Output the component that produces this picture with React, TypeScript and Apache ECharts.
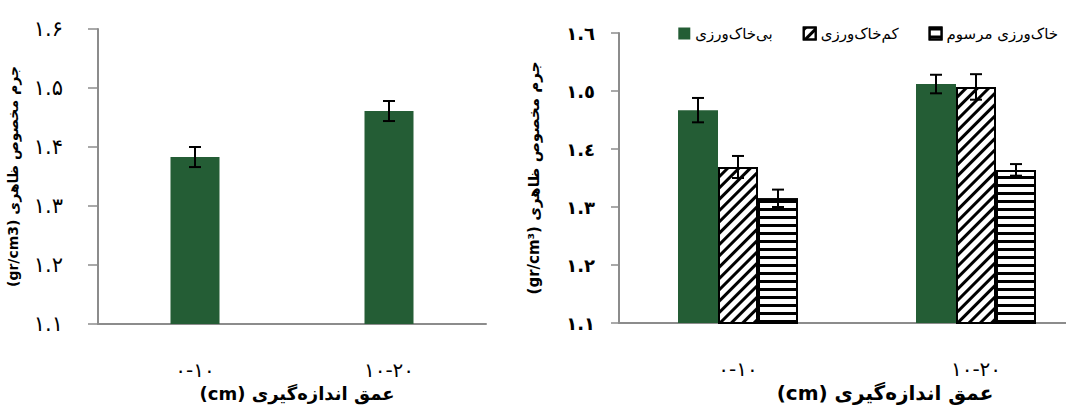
import React, { useEffect, useRef } from "react";
import * as echarts from "echarts";

const categories = ["۰-۱۰", "۱۰-۲۰"];
const leftValues = [1.383, 1.461];
const leftErrors = [0.017, 0.017];

const seriesNames = ["بی‌خاک‌ورزی", "کم‌خاک‌ورزی", "خاک‌ورزی مرسوم"];
const noTillValues = [1.467, 1.512];
const noTillErrors = [0.021, 0.016];
const minTillValues = [1.369, 1.507];
const minTillErrors = [0.019, 0.022];
const convValues = [1.315, 1.364];
const convErrors = [0.015, 0.01];

const yMin = 1.1;
const yMax = 1.6;
const yStep = 0.1;

const persianDigits = "۰۱۲۳۴۵۶۷۸۹";
const arabicDigits = "٠١٢٣٤٥٦٧٨٩";
const toDigits = (s: string, set: string) => s.replace(/[0-9]/g, (d) => set[+d]);

const GREEN = "#245d35";
const AXIS = "#8c8c8c";
const FONT = "DejaVu Sans";

function errorSeries(name: string, xIdx: number, vals: number[], errs: number[], offset: number) {
  return {
    type: "custom",
    name,
    xAxisIndex: xIdx,
    yAxisIndex: xIdx,
    z: 10,
    data: vals.map((v, i) => [i, v, errs[i]]),
    encode: { x: 0, y: 1 },
    renderItem: (params: any, api: any) => {
      const c = api.value(0);
      const v = api.value(1);
      const e = api.value(2);
      const top = api.coord([c, v + e]);
      const bot = api.coord([c, v - e]);
      const x = top[0] + offset;
      const st = { stroke: "#000", lineWidth: 2 };
      return {
        type: "group",
        children: [
          { type: "line", shape: { x1: x, y1: top[1], x2: x, y2: bot[1] }, style: st },
          { type: "line", shape: { x1: x - 6, y1: top[1], x2: x + 6, y2: top[1] }, style: st },
          { type: "line", shape: { x1: x - 6, y1: bot[1], x2: x + 6, y2: bot[1] }, style: st },
        ],
      };
    },
  };
}

export default function App() {
  const ref = useRef<HTMLDivElement>(null);
  useEffect(() => {
    document.body.style.margin = "0";
    if (!ref.current) return;
    const chart = echarts.init(ref.current, null, { renderer: "svg" });
    const yAxisBase = (idx: number) => ({
      type: "value",
      gridIndex: idx,
      min: yMin,
      max: yMax,
      interval: yStep,
      splitLine: { show: false },
      axisLine: { show: true, lineStyle: { color: AXIS, width: 2 } },
      axisTick: { show: true, length: idx === 0 ? 10 : 8, lineStyle: { color: AXIS, width: 1.5 } },
      nameLocation: "middle",
      nameGap: 78,
      nameRotate: 90,
    });
    const xAxisBase = (idx: number) => ({
      type: "category",
      gridIndex: idx,
      data: categories,
      axisLine: { show: true, lineStyle: { color: AXIS, width: 2 } },
      axisTick: { show: false },
      axisLabel: { margin: 36, fontSize: 20, color: "#000", fontFamily: FONT },
    });
    chart.setOption({
      animation: false,
      textStyle: { fontFamily: FONT },
      grid: [
        { left: 98, width: 388, top: 29, bottom: 87, outerBoundsMode: "none" },
        { left: 619, width: 476, top: 33, bottom: 88, outerBoundsMode: "none" },
      ],
      legend: {
        data: seriesNames,
        right: 3,
        top: 21,
        itemWidth: 12,
        itemHeight: 12,
        itemGap: 30,
        icon: "rect",
        textStyle: { fontSize: 15, color: "#000", fontFamily: FONT },
      },
      xAxis: [xAxisBase(0), xAxisBase(1)],
      yAxis: [
        {
          ...yAxisBase(0),
          name: "(gr/cm3) جرم مخصوص ظاهری",
          nameTextStyle: { fontSize: 14, fontWeight: "bold", color: "#000", fontFamily: FONT },
          axisLabel: {
            margin: 35,
            fontSize: 21,
            color: "#000",
            fontFamily: FONT,
            formatter: (v: number) => toDigits(v.toFixed(1), persianDigits),
          },
        },
        {
          ...yAxisBase(1),
          name: "(gr/cm³) جرم مخصوص ظاهری",
          nameTextStyle: { fontSize: 15, fontWeight: "bold", color: "#000", fontFamily: FONT },
          axisLabel: {
            margin: 24,
            fontSize: 18,
            fontWeight: "bold",
            color: "#000",
            fontFamily: FONT,
            formatter: (v: number) => toDigits(v.toFixed(1), arabicDigits),
          },
        },
      ],
      graphic: [
        {
          type: "text",
          x: 297,
          y: 393,
          style: {
            text: "(cm) عمق اندازه‌گیری",
            fontSize: 18,
            fontWeight: "bold",
            fontFamily: FONT,
            fill: "#000",
            align: "center",
            verticalAlign: "middle",
          },
        },
        {
          type: "text",
          x: 885,
          y: 393,
          style: {
            text: "(cm) عمق اندازه‌گیری",
            fontSize: 20,
            fontWeight: "bold",
            fontFamily: FONT,
            fill: "#000",
            align: "center",
            verticalAlign: "middle",
          },
        },
      ],
      series: [
        {
          type: "bar",
          name: "left",
          xAxisIndex: 0,
          yAxisIndex: 0,
          barWidth: 49,
          data: leftValues,
          itemStyle: { color: GREEN },
        },
        errorSeries("leftErr", 0, leftValues, leftErrors, 0),
        {
          type: "bar",
          name: seriesNames[0],
          xAxisIndex: 1,
          yAxisIndex: 1,
          barWidth: 40,
          barGap: "0%",
          data: noTillValues,
          itemStyle: { color: GREEN },
        },
        {
          type: "bar",
          name: seriesNames[1],
          xAxisIndex: 1,
          yAxisIndex: 1,
          barWidth: 40,
          barGap: "0%",
          data: minTillValues,
          itemStyle: {
            color: "#fff",
            borderColor: "#000",
            borderWidth: 2,
            decal: {
              symbol: "rect",
              color: "#000",
              backgroundColor: "#fff",
              dashArrayX: [1, 0],
              dashArrayY: [3, 5],
              rotation: -Math.PI / 4,
            },
          },
        },
        {
          type: "bar",
          name: seriesNames[2],
          xAxisIndex: 1,
          yAxisIndex: 1,
          barWidth: 40,
          barGap: "0%",
          data: convValues,
          itemStyle: {
            color: "#fff",
            borderColor: "#000",
            borderWidth: 2,
            decal: {
              symbol: "rect",
              color: "#000",
              backgroundColor: "#fff",
              dashArrayX: [1, 0],
              dashArrayY: [3, 4.5],
              rotation: 0,
            },
          },
        },
        errorSeries("e1", 1, noTillValues, noTillErrors, -40),
        errorSeries("e2", 1, minTillValues, minTillErrors, 0),
        errorSeries("e3", 1, convValues, convErrors, 40),
      ],
    });
    return () => chart.dispose();
  }, []);
  return <div ref={ref} style={{ width: 1066, height: 411 }} />;
}
